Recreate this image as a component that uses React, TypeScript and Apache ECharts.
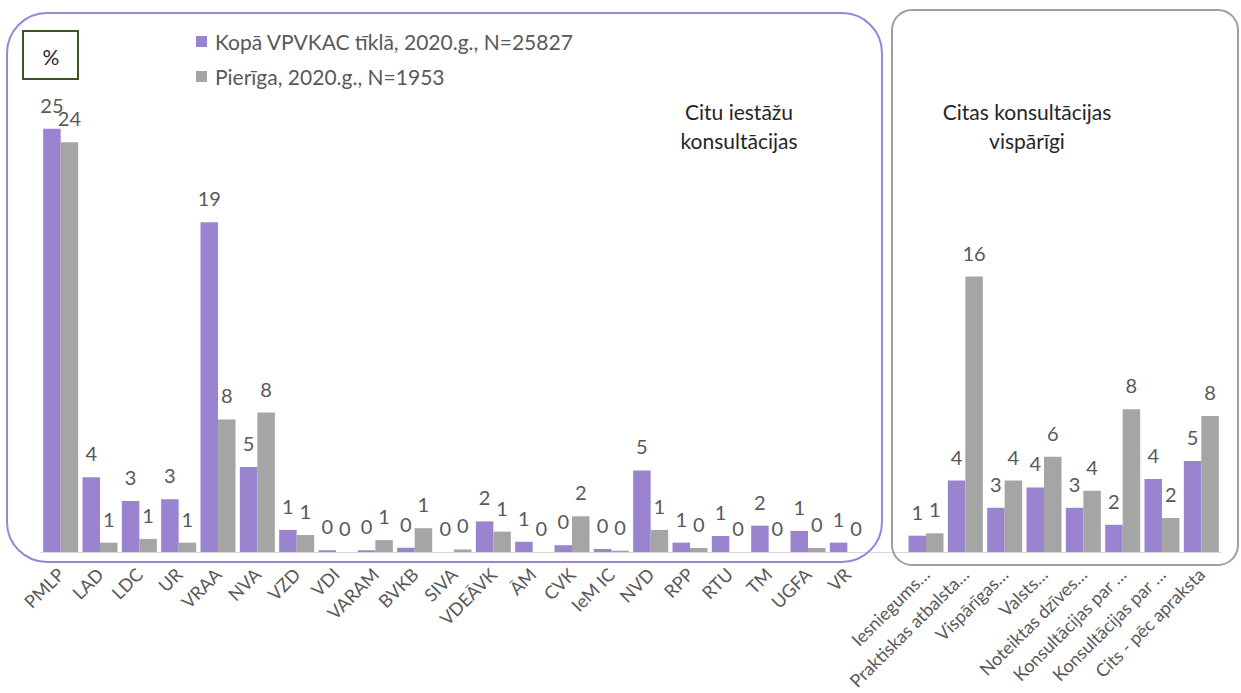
import React, { useEffect, useRef } from "react";
import * as echarts from "echarts";

const categories: string[] = [
  "PMLP", "LAD", "LDC", "UR", "VRAA", "NVA", "VZD", "VDI", "VARAM", "BVKB", "SIVA",
  "VDEĀVK", "ĀM", "CVK", "IeM IC", "NVD", "RPP", "RTU", "TM", "UGFA", "VR",
  "",
  "Iesniegums…", "Praktiskas atbalsta…", "Vispārīgas…", "Valsts…", "Noteiktas dzīves…",
  "Konsultācijas par …", "Konsultācijas par …", "Cits - pēc apraksta",
];

const seriesNames: string[] = ["Kopā VPVKAC tīklā, 2020.g., N=25827", "Pierīga, 2020.g., N=1953"];

const kopaValues: (number | null)[] = [
  24.9, 4.4, 3.0, 3.1, 19.4, 5.0, 1.3, 0.1, 0.1, 0.25, 0.0, 1.8, 0.6, 0.4, 0.18, 4.8, 0.55, 0.94, 1.55, 1.24, 0.55,
  null,
  0.96, 4.2, 2.6, 3.8, 2.6, 1.6, 4.3, 5.35,
];

const pierigaValues: (number | null)[] = [
  24.1, 0.55, 0.77, 0.55, 7.8, 8.2, 1.0, 0.0, 0.7, 1.4, 0.15, 1.2, 0.0, 2.1, 0.08, 1.3, 0.24, 0.0, 0.0, 0.24, 0.0,
  null,
  1.1, 16.2, 4.2, 5.6, 3.6, 8.4, 2.0, 8.0,
];

const groupTitles: string[] = ["Citu iestāžu\nkonsultācijas", "Citas konsultācijas\nvispārīgi"];
const unitLabel = "%";

const FONT = "Lato, 'Noto Sans', sans-serif";
const PURPLE = "#9a84cf";
const GRAY = "#a5a5a5";
const TEXT = "#595959";

export default function App() {
  const ref = useRef<HTMLDivElement>(null);

  useEffect(() => {
    if (!ref.current) return;
    const chart = echarts.init(ref.current, undefined, { renderer: "svg" });
    const labelCfg = {
      show: true,
      position: "top" as const,
      distance: 14,
      fontSize: 20,
      fontFamily: FONT,
      color: TEXT,
      formatter: (p: any) => (p.value == null ? "" : String(Math.round(p.value))),
    };
    chart.setOption({
      animation: false,
      backgroundColor: "#ffffff",
      textStyle: { fontFamily: FONT },
      grid: {
        left: 41,
        right: 20,
        top: 127,
        bottom: 141,
        containLabel: false,
        outerBoundsMode: "none",
      },
      legend: {
        orient: "vertical",
        left: 191,
        top: 24,
        itemWidth: 11,
        itemHeight: 11,
        itemGap: 10,
        icon: "rect",
        data: seriesNames,
        textStyle: { fontSize: 21, color: TEXT, fontFamily: FONT, lineHeight: 25, padding: [0, 0, 0, 3] },
        selectedMode: false,
      },
      xAxis: {
        type: "category",
        data: categories,
        axisLine: { show: true, lineStyle: { color: "#d9d9d9", width: 1 } },
        axisTick: { show: false },
        axisLabel: {
          interval: 0,
          rotate: 45,
          fontSize: 18,
          color: TEXT,
          fontFamily: FONT,
          margin: 19,
        },
      },
      yAxis: {
        type: "value",
        min: 0,
        max: 25,
        show: false,
        splitLine: { show: false },
      },
      series: [
        {
          name: seriesNames[0],
          type: "bar",
          data: kopaValues,
          barGap: "0%",
          barCategoryGap: "11%",
          itemStyle: { color: PURPLE },
          label: labelCfg,
        },
        {
          name: seriesNames[1],
          type: "bar",
          data: pierigaValues,
          itemStyle: { color: GRAY },
          label: labelCfg,
        },
      ],
      graphic: [
        {
          type: "rect",
          z: 100,
          shape: { x: 7, y: 13, width: 875, height: 549, r: 40 },
          style: { fill: "none", stroke: "#9b86d4", lineWidth: 2 },
          silent: true,
        },
        {
          type: "rect",
          z: 100,
          shape: { x: 892, y: 10, width: 346, height: 555, r: 20 },
          style: { fill: "none", stroke: "#a0a0a0", lineWidth: 2 },
          silent: true,
        },
        {
          type: "rect",
          z: 100,
          shape: { x: 23, y: 31, width: 55, height: 48 },
          style: { fill: "none", stroke: "#375623", lineWidth: 2 },
          silent: true,
        },
        {
          type: "text",
          z: 101,
          x: 51,
          y: 56,
          style: {
            text: unitLabel,
            fontSize: 21,
            fontFamily: FONT,
            fill: "#262626",
            align: "center",
            verticalAlign: "middle",
          },
        },
        {
          type: "text",
          z: 101,
          x: 739,
          y: 126,
          style: {
            text: groupTitles[0],
            fontSize: 21,
            lineHeight: 29,
            fontFamily: FONT,
            fill: "#262626",
            align: "center",
            verticalAlign: "middle",
          },
        },
        {
          type: "text",
          z: 101,
          x: 1027,
          y: 126,
          style: {
            text: groupTitles[1],
            fontSize: 21,
            lineHeight: 29,
            fontFamily: FONT,
            fill: "#262626",
            align: "center",
            verticalAlign: "middle",
          },
        },
      ],
    });
    return () => chart.dispose();
  }, []);

  return (
    <div
      ref={ref}
      style={{ position: "fixed", left: 0, top: 0, width: 1241, height: 693, background: "#fff" }}
    />
  );
}
